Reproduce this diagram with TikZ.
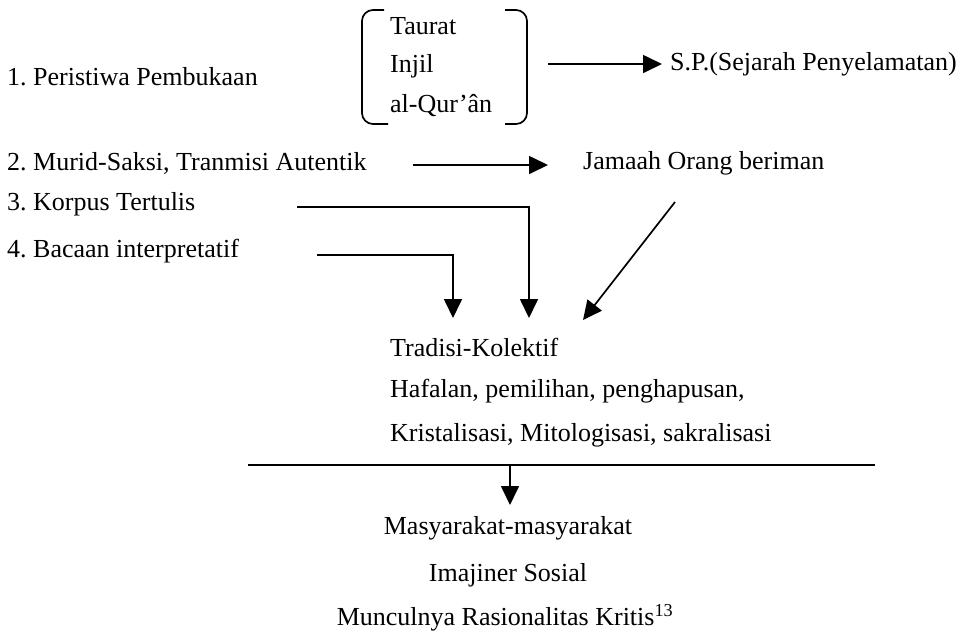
\documentclass[tikz,border=0pt]{standalone}
\usepackage{fontspec}
\setmainfont{Liberation Serif}
\usetikzlibrary{arrows.meta}
\begin{document}
\frenchspacing
\begin{tikzpicture}[x=1pt,y=-1pt,
  lbl/.style={anchor=west,inner sep=0pt,font=\fontsize{26}{31}\selectfont},
  ctr/.style={anchor=center,inner sep=0pt,font=\fontsize{26}{31}\selectfont},
  arr/.style={line width=1.7pt,-{Triangle[length=19pt,width=18pt]}},
  ln/.style={line width=1.7pt},
  brk/.style={line width=1.7pt,rounded corners=11pt}]
\useasboundingbox (0,0) rectangle (977,638);
% left column
\node[lbl] (t1) at (7,77) {1. Peristiwa Pembukaan};
\node[lbl] (t2) at (7,163) {2. Murid-Saksi, Tranmisi Autentik};
\node[lbl] (t3) at (7,204) {3. Korpus Tertulis};
\node[lbl] (t4) at (7,251) {4. Bacaan interpretatif};
% scriptures in bracket
\node[lbl] (taurat) at (390,26) {Taurat};
\node[lbl] (injil) at (390,66) {Injil};
\node[lbl] (quran) at (390,106) {al-Qur’ân};
\coordinate (bl) at (362,10);
\coordinate (br) at (527,10);
\draw[brk] (384,10) -- (bl) -- (362,124) -- (388,124);
\draw[brk] (505,10) -- (br) -- (527,124) -- (505,124);
% right column
\node[lbl] (sp) at (670,64) {S.P.(Sejarah Penyelamatan)};
\node[lbl] (jam) at (583,163) {Jamaah Orang beriman};
% arrows top
\coordinate (a1s) at (548,64);
\coordinate (a1e) at (662,64);
\draw[arr] (a1s) -- (a1e);
\coordinate (a2s) at (413,165);
\coordinate (a2e) at (548,165);
\draw[arr] (a2s) -- (a2e);
% elbow arrows
\coordinate (c3) at (297,207);
\coordinate (k3) at (529,318);
\coordinate (c4) at (317,255);
\coordinate (k4) at (453,318);
\coordinate (dj) at (675,202);
\coordinate (kj) at (583,320);
\draw[arr] (c3) -| (k3);
\draw[arr] (c4) -| (k4);
\draw[arr] (dj) -- (kj);
% collective tradition
\node[lbl] (trad) at (390,347) {Tradisi-Kolektif};
\node[lbl] (haf) at (390,391) {Hafalan, pemilihan, penghapusan,};
\node[lbl] (kri) at (390,435) {Kristalisasi, Mitologisasi, sakralisasi};
\coordinate (hl) at (248,465);
\coordinate (hr) at (875,465);
\draw[ln] (hl) -- (hr);
% results
\node[ctr] (mas) at (508,528) {Masyarakat-masyarakat};
\node[ctr] (ima) at (508,575) {Imajiner Sosial};
\node[ctr] (mun) at (505,618) {Munculnya Rasionalitas Kritis\textsuperscript{13}};
\coordinate (dtop) at (510,465);
\coordinate (dbot) at (510,505);
\draw[arr] (dtop) -- (dbot);
\end{tikzpicture}
\end{document}
